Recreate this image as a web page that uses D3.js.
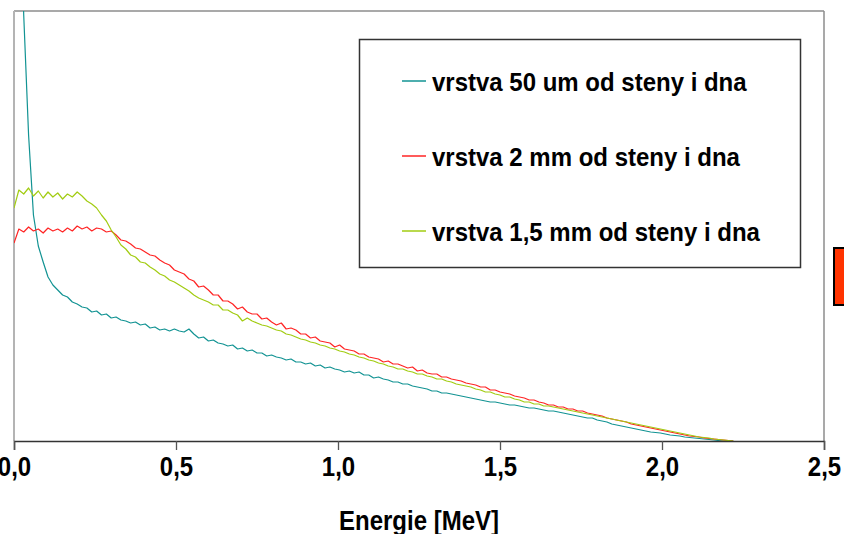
<!DOCTYPE html>
<html>
<head>
<meta charset="utf-8">
<script src="https://cdn.jsdelivr.net/npm/d3@7"></script>
<style>
  html, body { margin: 0; padding: 0; background: #fff; }
  svg { display: block; }
  text { font-family: "Liberation Sans", Arial, sans-serif; font-weight: bold; fill: #000; }
</style>
</head>
<body>
<svg id="chart" width="844" height="534"></svg>
<script>
// Spectrum channels: energy of channel i is i * channelStep (MeV)
const channelStep = 0.015;
const channelCount = 149;

// Counts per channel (arbitrary units) for each layer
const layer50um = [
  1141, 591, 426, 306, 226, 195, 179, 164, 156, 151,
  146, 144, 139, 137, 134, 133, 129, 130, 126, 127,
  123, 124, 121, 120, 118, 119, 116, 117, 113, 114,
  111, 112, 110, 112, 110, 109, 112, 107, 103, 104,
  100, 101, 98, 97, 95, 96, 92, 93, 90, 91,
  88, 88, 85, 86, 84, 83, 81, 82, 79, 79,
  77, 78, 75, 76, 73, 74, 72, 71, 69, 70,
  68, 69, 66, 66, 63, 64, 62, 61, 59, 59,
  57, 57, 55, 54, 53, 52, 50, 50, 48, 48,
  47, 46, 45, 44, 43, 42, 41, 40, 39, 39,
  38, 37, 36, 36, 35, 34, 33, 33, 32, 31,
  30, 30, 29, 28, 27, 26, 25, 24, 23, 23,
  21, 20, 19, 17, 16, 15, 14, 13, 12, 11,
  10, 9, 8.5, 8, 7, 6, 5.5, 5, 4, 3.5,
  3, 2.5, 2, 1.5, 1, 0.5, 0, 0, 0
];
const layer2mm = [
  198, 212, 209, 214, 210, 212, 208, 213, 210, 212,
  209, 213, 210, 215, 212, 214, 210, 213, 212, 209,
  210, 206, 201, 200, 197, 193, 192, 189, 186, 185,
  181, 178, 176, 171, 169, 167, 162, 160, 154, 155,
  151, 146, 146, 140, 140, 137, 132, 134, 129, 127,
  127, 122, 123, 119, 116, 118, 112, 113, 111, 107,
  107, 103, 104, 100, 99, 98, 94, 96, 92, 91,
  90, 87, 87, 84, 83, 82, 79, 80, 77, 77,
  75, 73, 74, 70, 71, 68, 67, 67, 64, 64,
  62, 61, 60, 58, 57, 56, 54, 54, 51, 51,
  49, 48, 47, 45, 44, 43, 41, 41, 39, 38,
  36, 36, 34, 34, 32, 32, 30, 30, 28, 27,
  26, 25, 23, 22, 21, 20, 19, 17, 16, 15,
  14, 13, 12, 11, 10, 9, 8, 7, 6, 5,
  4.5, 4, 3, 2.5, 2, 1.5, 1, 0.5, 0
];
const layer15mm = [
  233, 251, 247, 253, 245, 250, 243, 249, 244, 248,
  242, 247, 244, 249, 245, 240, 237, 233, 226, 220,
  211, 204, 196, 192, 186, 184, 179, 178, 174, 171,
  167, 165, 161, 159, 156, 153, 150, 146, 143, 141,
  139, 136, 136, 131, 131, 128, 126, 120, 123, 120,
  118, 116, 115, 113, 111, 110, 107, 106, 104, 102,
  101, 99, 98, 96, 95, 93, 92, 90, 89, 87,
  86, 84, 83, 81, 80, 78, 77, 75, 74, 72,
  72, 70, 69, 67, 67, 65, 64, 62, 62, 60,
  59, 57, 56, 55, 54, 52, 51, 49, 49, 47,
  46, 44, 44, 42, 41, 39, 39, 37, 37, 35,
  35, 34, 33, 32, 31, 30, 29, 28, 27, 26,
  25, 24, 23, 22, 21, 20, 19, 18, 17, 16,
  15, 14, 13, 12, 11, 10, 9, 8, 7, 6,
  5, 4, 3.5, 3, 2, 1.5, 1, 0.5, 0
];

const seriesNames = [
  "vrstva 50 um od steny i dna",
  "vrstva 2 mm od steny i dna",
  "vrstva 1,5 mm od steny i dna"
];
const seriesColors = ["#129393", "#ff2424", "#a2cc12"];
const xTicks = [0, 0.5, 1.0, 1.5, 2.0, 2.5];
const xTitle = "Energie [MeV]";

const energies = d3.range(channelCount).map(i => i * channelStep);
const seriesValues = [layer50um, layer2mm, layer15mm];

const svg = d3.select("#chart");
const plot = { left: 14, top: 11, right: 824, bottom: 441 };

const x = d3.scaleLinear().domain([0, 2.5]).range([plot.left, plot.right]);
const y = d3.scaleLinear().domain([0, 430]).range([plot.bottom, plot.top]);

svg.append("defs").append("clipPath").attr("id", "plotClip")
  .append("rect")
  .attr("x", plot.left).attr("y", plot.top)
  .attr("width", plot.right - plot.left).attr("height", plot.bottom - plot.top);

// Plot frame: top and right edges grey, left edge light grey
svg.append("line").attr("x1", plot.left).attr("x2", plot.right)
  .attr("y1", plot.top).attr("y2", plot.top)
  .attr("stroke", "#8c8c8c").attr("stroke-width", 1.5);
svg.append("line").attr("x1", plot.right).attr("x2", plot.right)
  .attr("y1", plot.top).attr("y2", plot.bottom)
  .attr("stroke", "#8c8c8c").attr("stroke-width", 1.5);
svg.append("line").attr("x1", plot.left).attr("x2", plot.left)
  .attr("y1", plot.top).attr("y2", plot.bottom)
  .attr("stroke", "#b4b4b4").attr("stroke-width", 2);

// Spectra
const line = d3.line()
  .x((d, i) => x(energies[i]))
  .y(d => y(d));

const curves = svg.append("g").attr("clip-path", "url(#plotClip)");
seriesValues.forEach((vals, k) => {
  curves.append("path")
    .datum(vals)
    .attr("fill", "none")
    .attr("stroke", seriesColors[k])
    .attr("stroke-width", 1.2)
    .attr("stroke-linejoin", "round")
    .attr("d", line);
});

// Energy axis
const xAxis = d3.axisBottom(x)
  .tickValues(xTicks)
  .tickSize(9)
  .tickFormat(d => d3.format(".1f")(d).replace(".", ","));

const gx = svg.append("g")
  .attr("transform", `translate(0,${plot.bottom})`)
  .call(xAxis);
gx.select(".domain").attr("stroke", "#333").attr("stroke-width", 1.5);
gx.selectAll(".tick line").attr("stroke", "#555").attr("stroke-width", 1.3);
gx.selectAll(".tick text")
  .attr("y", 0).attr("dy", null)
  .attr("transform", "translate(0,35) scale(1,1.12)")
  .attr("font-size", 24)
  .attr("font-family", "Liberation Sans, Arial, sans-serif")
  .attr("font-weight", "bold")
  .attr("fill", "#000");

svg.append("text")
  .attr("transform", "translate(419,530) scale(1,1.12)")
  .attr("text-anchor", "middle")
  .attr("font-size", 24)
  .text(xTitle);

// Legend
const legend = svg.append("g");
legend.append("rect")
  .attr("x", 359.5).attr("y", 39.5)
  .attr("width", 441).attr("height", 228)
  .attr("fill", "#fff")
  .attr("stroke", "#333").attr("stroke-width", 1.5);

const legendRows = [81, 156, 231];
seriesNames.forEach((name, k) => {
  legend.append("line")
    .attr("x1", 402).attr("x2", 426)
    .attr("y1", legendRows[k]).attr("y2", legendRows[k])
    .attr("stroke", seriesColors[k]).attr("stroke-width", 1.5);
  legend.append("text")
    .attr("transform", `translate(432,${legendRows[k] + 9.5}) scale(1,1.05)`)
    .attr("font-size", 24)
    .text(name);
});

// Partly visible marker at the right edge
svg.append("rect")
  .attr("x", 834).attr("y", 248)
  .attr("width", 14).attr("height", 57)
  .attr("fill", "#ff3300")
  .attr("stroke", "#000").attr("stroke-width", 2);
</script>
</body>
</html>
